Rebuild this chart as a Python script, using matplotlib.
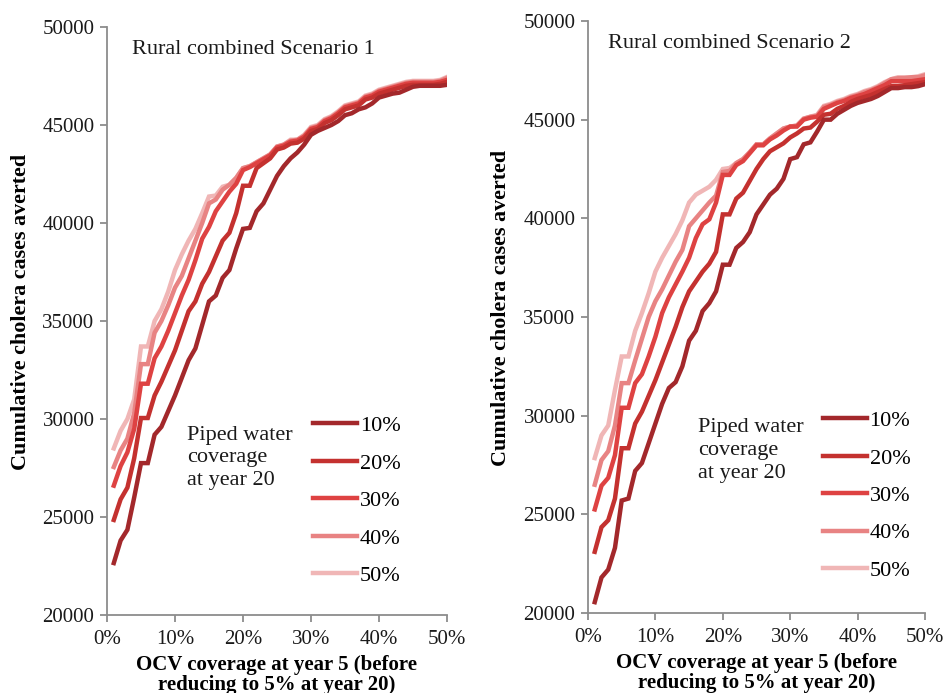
import matplotlib
matplotlib.use("Agg")
import matplotlib.pyplot as plt
from matplotlib.ticker import FuncFormatter
import numpy as np

plt.rcParams['font.family'] = ['Liberation Serif', 'DejaVu Serif']

ocv = list(range(1, 51))  # OCV coverage, %

piped_labels = ["10%", "20%", "30%", "40%", "50%"]
colors = ["#A3282B", "#C4312F", "#DE4242", "#E88383", "#F0B6B6"]

s1_10 = [22650, 23800, 24350, 26000, 27750, 27750, 29200, 29600, 30400, 31200,
         32100, 33000, 33600, 34800, 36000, 36300, 37200, 37600, 38700, 39700,
         39750, 40600, 41000, 41700, 42400, 42900, 43300, 43600, 44000, 44500,
         44700, 44850, 45000, 45200, 45500, 45600, 45800, 45900, 46100, 46400,
         46500, 46600, 46650, 46800, 46950, 47000, 47000, 47000, 47000, 47050]
s1_20 = [24850, 25900, 26500, 28000, 30050, 30050, 31200, 31900, 32700, 33500,
         34500, 35500, 36000, 36900, 37500, 38300, 39100, 39500, 40500, 41900,
         41900, 42800, 43050, 43300, 43750, 43850, 44050, 44100, 44300, 44700,
         44800, 45100, 45250, 45500, 45800, 45900, 46000, 46300, 46400, 46600,
         46700, 46800, 46900, 47000, 47050, 47050, 47050, 47050, 47100, 47200]
s1_30 = [26600, 27600, 28300, 29500, 31800, 31800, 33100, 33700, 34500, 35400,
         36300, 37100, 38100, 39200, 39800, 40600, 41100, 41600, 42000, 42700,
         42850, 43050, 43250, 43450, 43850, 43950, 44150, 44200, 44400, 44800,
         44900, 45200, 45350, 45600, 45900, 46000, 46100, 46400, 46500, 46700,
         46800, 46900, 47000, 47100, 47150, 47150, 47150, 47150, 47200, 47300]
s1_40 = [27550, 28400, 29000, 30300, 32800, 32800, 34400, 35000, 35800, 36700,
         37300, 38200, 39100, 40000, 41000, 41200, 41700, 41950, 42300, 42800,
         42900, 43100, 43300, 43500, 43900, 44000, 44200, 44250, 44450, 44850,
         44950, 45250, 45400, 45650, 45950, 46050, 46150, 46450, 46550, 46750,
         46850, 46950, 47050, 47150, 47200, 47200, 47200, 47200, 47250, 47400]
s1_50 = [28500, 29400, 30000, 31000, 33700, 33700, 35000, 35600, 36500, 37600,
         38400, 39100, 39700, 40500, 41350, 41400, 41850, 41950, 42300, 42800,
         42900, 43100, 43300, 43500, 43900, 44000, 44250, 44250, 44500, 44900,
         45000, 45300, 45450, 45700, 46000, 46100, 46200, 46500, 46600, 46800,
         46900, 47000, 47100, 47200, 47250, 47250, 47250, 47250, 47300, 47450]

s2_10 = [20550, 21800, 22200, 23300, 25700, 25800, 27200, 27600, 28600, 29600,
         30600, 31400, 31700, 32500, 33800, 34300, 35300, 35700, 36300, 37650,
         37650, 38500, 38800, 39300, 40200, 40700, 41200, 41500, 42000, 43000,
         43100, 43750, 43850, 44400, 45000, 45000, 45300, 45500, 45700, 45850,
         45950, 46050, 46200, 46400, 46600, 46600, 46650, 46650, 46700, 46800]
s2_20 = [23100, 24350, 24700, 25800, 28350, 28350, 29600, 30200, 31000, 31800,
         32700, 33600, 34500, 35500, 36300, 36800, 37300, 37700, 38300, 40200,
         40200, 41000, 41300, 41900, 42500, 43000, 43400, 43600, 43800, 44100,
         44300, 44550, 44600, 44900, 45250, 45300, 45550, 45700, 45900, 46050,
         46150, 46250, 46400, 46550, 46700, 46700, 46750, 46800, 46850, 46900]
s2_30 = [25250, 26450, 26850, 28000, 30400, 30400, 31650, 32100, 33000, 34000,
         35200, 36000, 36650, 37300, 38000, 39000, 39700, 39950, 40800, 42200,
         42200, 42700, 42900, 43300, 43700, 43700, 44000, 44200, 44450, 44650,
         44650, 45000, 45100, 45150, 45550, 45700, 45850, 45950, 46100, 46200,
         46300, 46450, 46600, 46750, 46950, 46950, 46950, 46950, 47000, 47050]
s2_40 = [26500, 27750, 28200, 29500, 31650, 31650, 32800, 33900, 35000, 35800,
         36400, 37100, 37800, 38400, 39600, 40000, 40400, 40800, 41150, 42350,
         42400, 42800, 43000, 43350, 43750, 43750, 44050, 44300, 44550, 44650,
         44700, 45050, 45150, 45200, 45650, 45750, 45900, 46000, 46150, 46250,
         46400, 46500, 46650, 46850, 47050, 47100, 47100, 47150, 47150, 47250]
s2_50 = [27850, 29000, 29500, 31300, 33000, 33000, 34300, 35200, 36200, 37300,
         38000, 38600, 39200, 39900, 40800, 41200, 41400, 41600, 41950, 42500,
         42550, 42800, 43000, 43350, 43750, 43750, 44050, 44300, 44550, 44650,
         44700, 45050, 45150, 45250, 45700, 45800, 45950, 46050, 46200, 46300,
         46450, 46550, 46700, 46900, 47050, 47150, 47150, 47150, 47200, 47300]

scen1 = [s1_10, s1_20, s1_30, s1_40, s1_50]
scen2 = [s2_10, s2_20, s2_30, s2_40, s2_50]

fig = plt.figure(figsize=(9.45, 6.93), dpi=100)
W, H = 945, 693

def add_ax(x0, x1, y_top, y_bot):
    return fig.add_axes([x0 / W, (H - y_bot) / H, (x1 - x0) / W, (y_bot - y_top) / H])

ax1 = add_ax(107, 447, 27, 615)
ax2 = add_ax(588, 925, 21, 613)

spine_col = "#8c8c8c"
pct_fmt = FuncFormatter(lambda v, p: f"{int(round(v))}%")

for ax, data, title, tx, legx, legy, notex, notey, ylx in [
        (ax1, scen1, "Rural combined Scenario 1", 0.075, 0.606, 0.339, 0.235, 0.322, -0.224),
        (ax2, scen2, "Rural combined Scenario 2", 0.06, 0.697, 0.342, 0.326, 0.329, -0.228)]:
    handles = [None] * 5
    for i in range(4, -1, -1):
        h, = ax.plot(ocv, data[i], color=colors[i], lw=3.2, solid_joinstyle='miter',
                     label=piped_labels[i])
        handles[i] = h
    ax.set_xlim(0, 50)
    ax.set_ylim(20000, 50000)
    ax.set_xticks([0, 10, 20, 30, 40, 50])
    ax.set_yticks([20000, 25000, 30000, 35000, 40000, 45000, 50000])
    ax.xaxis.set_major_formatter(pct_fmt)
    for s in ["top", "right"]:
        ax.spines[s].set_visible(False)
    for s in ["left", "bottom"]:
        ax.spines[s].set_color(spine_col)
        ax.spines[s].set_linewidth(1.3)
    ax.tick_params(axis='both', direction='out', length=5, width=1.3,
                   color=spine_col, labelsize=15, labelcolor="#1a1a1a")
    ax.tick_params(axis='y', pad=4)
    ax.tick_params(axis='x', pad=6)
    ax.set_ylabel("Cumulative cholera cases averted", fontsize=15.8,
                  fontweight='bold')
    ax.yaxis.set_label_coords(ylx, 0.515)
    ax.set_xlabel("OCV coverage at year 5 (before\nreducing to 5% at year 20)",
                  fontsize=15, fontweight='bold', labelpad=4, linespacing=1.0)
    ax.text(tx, 0.962, title, transform=ax.transAxes, fontsize=16,
            va='center', ha='left', color="#1a1a1a")
    ax.text(notex, notey, "Piped water\ncoverage\nat year 20",
            transform=ax.transAxes, fontsize=16, va='top', ha='left',
            linespacing=1.27, color="#1a1a1a")
    leg = ax.legend(handles=handles, loc='upper left', bbox_to_anchor=(legx, legy),
                    frameon=False, fontsize=16, handlelength=2.0,
                    handletextpad=0.1, labelspacing=0.76, borderaxespad=0,
                    borderpad=0)
    for lh in leg.get_lines():
        lh.set_linewidth(3.2)

fig.savefig("out.png", dpi=100, facecolor="white")
